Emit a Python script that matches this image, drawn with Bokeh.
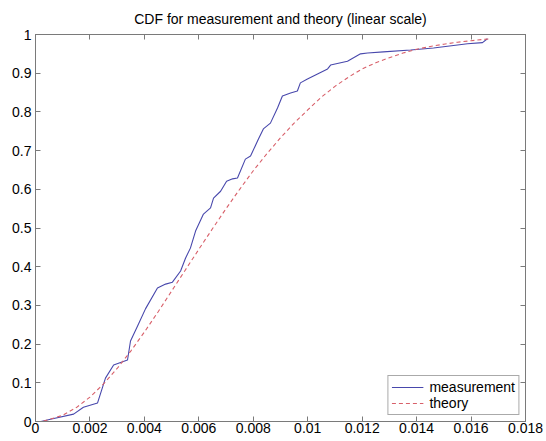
from bokeh.plotting import figure
from bokeh.models import LinearAxis, FixedTicker, Legend, LegendItem, Range1d
from bokeh.embed import file_html
from bokeh.resources import INLINE

title_text = "CDF for measurement and theory (linear scale)"

meas_x = [0.0002, 0.00055, 0.0014, 0.00176, 0.00228, 0.00257, 0.00287, 0.00338,
          0.00349, 0.00375, 0.00404, 0.00448, 0.00478, 0.00503, 0.00533, 0.00551,
          0.00569, 0.00588, 0.00617, 0.00643, 0.00654, 0.0068, 0.00702, 0.00724,
          0.00742, 0.00771, 0.0079, 0.00819, 0.00837, 0.00863, 0.00889, 0.00907,
          0.00937, 0.00962, 0.00973, 0.00999, 0.01036, 0.01073, 0.01084, 0.01146,
          0.01194, 0.0122, 0.01278, 0.01378, 0.01462, 0.01587, 0.01642, 0.0166]
meas_y = [0.0, 0.006, 0.019, 0.037, 0.048, 0.112, 0.146, 0.159,
          0.208, 0.247, 0.291, 0.345, 0.355, 0.36, 0.389, 0.422,
          0.448, 0.492, 0.536, 0.552, 0.577, 0.595, 0.621, 0.627,
          0.629, 0.678, 0.686, 0.73, 0.756, 0.771, 0.81, 0.841,
          0.849, 0.854, 0.875, 0.885, 0.898, 0.911, 0.921, 0.931,
          0.95, 0.952, 0.955, 0.96, 0.965, 0.976, 0.979, 0.989]

theory_x = [0.0003, 0.001, 0.0015, 0.002, 0.0025, 0.003, 0.0035, 0.004, 0.0045,
            0.005, 0.0055, 0.006, 0.0065, 0.007, 0.0075, 0.008, 0.0085, 0.009,
            0.0095, 0.010, 0.0105, 0.011, 0.0115, 0.012, 0.0125, 0.013, 0.0135,
            0.014, 0.0145, 0.015, 0.0155, 0.016, 0.0167]
theory_y = [0.001, 0.016, 0.036, 0.063, 0.097, 0.137, 0.182, 0.231, 0.283,
            0.337, 0.391, 0.445, 0.498, 0.55, 0.6, 0.648, 0.692, 0.733,
            0.771, 0.805, 0.838, 0.866, 0.89, 0.911, 0.927, 0.94, 0.952,
            0.962, 0.969, 0.975, 0.98, 0.984, 0.989]

x_ticks = [0, 0.002, 0.004, 0.006, 0.008, 0.01, 0.012, 0.014, 0.016, 0.018]
x_tick_labels = ["0", "0.002", "0.004", "0.006", "0.008", "0.01", "0.012", "0.014", "0.016", "0.018"]
y_ticks = [0, 0.1, 0.2, 0.3, 0.4, 0.5, 0.6, 0.7, 0.8, 0.9, 1]
y_tick_labels = ["0", "0.1", "0.2", "0.3", "0.4", "0.5", "0.6", "0.7", "0.8", "0.9", "1"]

FONT = "Liberation Sans"
AXIS_COLOR = "#7a7a7a"

p = figure(width=546, height=441, output_backend="svg", toolbar_location=None,
           x_range=Range1d(0, 0.018), y_range=Range1d(0, 1), title=title_text,
           min_border_left=35, min_border_right=21, min_border_top=34, min_border_bottom=20)

p.title.align = "center"
p.title.text_font = FONT
p.title.text_font_size = "14px"
p.title.text_font_style = "normal"
p.title.text_color = "black"
p.title.standoff = 16

p.xgrid.visible = False
p.ygrid.visible = False
p.outline_line_color = AXIS_COLOR
p.background_fill_color = "white"
p.border_fill_color = "white"

def style_axis(ax, ticks, labels, show_labels):
    ax.ticker = FixedTicker(ticks=ticks)
    ax.major_tick_in = 5
    ax.major_tick_out = 0
    ax.minor_tick_line_color = None
    ax.axis_line_color = AXIS_COLOR
    ax.major_tick_line_color = AXIS_COLOR
    ax.major_label_text_font = FONT
    ax.major_label_text_color = "black"
    if show_labels:
        ax.major_label_overrides = {t: l for t, l in zip(ticks, labels)}
        ax.major_label_text_font_size = "14px"
        ax.major_label_standoff = 1
    else:
        ax.major_label_overrides = {t: "" for t in ticks}
        ax.major_label_text_font_size = "1px"
        ax.major_label_standoff = 0

style_axis(p.xaxis[0], x_ticks, x_tick_labels, True)
style_axis(p.yaxis[0], y_ticks, y_tick_labels, True)
p.yaxis[0].major_label_standoff = 4

top_axis = LinearAxis()
style_axis(top_axis, x_ticks, x_tick_labels, False)
p.add_layout(top_axis, "above")
right_axis = LinearAxis()
style_axis(right_axis, y_ticks, y_tick_labels, False)
p.add_layout(right_axis, "right")

r1 = p.line(meas_x, meas_y, line_color="#4848ac", line_width=1.1)
r2 = p.line(theory_x, theory_y, line_color="#d8606a", line_width=1.1, line_dash="4 3")

legend = Legend(items=[LegendItem(label="measurement", renderers=[r1]),
                       LegendItem(label="theory", renderers=[r2])],
                location="bottom_right", margin=6, padding=3, spacing=0,
                glyph_width=32, glyph_height=16, label_standoff=6,
                label_text_font=FONT, label_text_font_size="14px",
                label_text_color="black", border_line_color="#555555",
                background_fill_color="white", background_fill_alpha=1.0)
p.add_layout(legend)

open("out.html", "w").write(file_html(p, INLINE))
